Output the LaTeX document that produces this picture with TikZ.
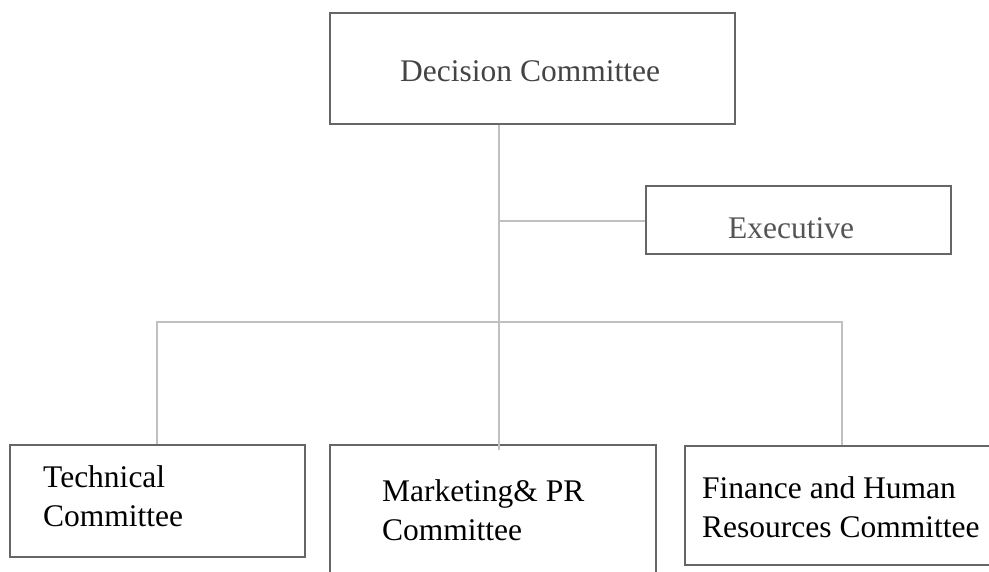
\documentclass[tikz,border=0pt]{standalone}
\usepackage{fontspec}
\setmainfont{Liberation Serif}
\definecolor{boxline}{HTML}{666666}
\definecolor{conn}{HTML}{C0C0C0}
\definecolor{toptext}{HTML}{444444}
\definecolor{exectext}{HTML}{555555}
\begin{document}
\begin{tikzpicture}[x=1pt,y=-1pt,
  orgbox/.style={draw=boxline,line width=1.5pt,rectangle,inner sep=0pt,anchor=north west},
  conline/.style={draw=conn,line width=1.5pt},
  lbl/.style={inner sep=0pt,anchor=base west,align=left,font=\fontsize{31.5}{39}\selectfont}]
\useasboundingbox (0,0) rectangle (989,571);
\clip (0,0) rectangle (989,571);
% connectors
\coordinate (busL) at (157,322);
\coordinate (busR) at (842,322);
\coordinate (busM) at (499,322);
\coordinate (execJ) at (499,221);
% boxes
\node[orgbox,minimum width=405pt,minimum height=111pt] (dec) at (329,12) {};
\node[orgbox,minimum width=305pt,minimum height=68pt] (exec) at (645,185) {};
\node[orgbox,minimum width=295pt,minimum height=112pt] (tech) at (9,444) {};
\node[orgbox,minimum width=326pt,minimum height=140pt] (mkt) at (329,444) {};
\node[orgbox,minimum width=320pt,minimum height=119pt] (fin) at (684,445) {};
\draw[conline] (dec.south -| execJ) -- (busM) -- ([yshift=-6pt]mkt.north -| busM);
\draw[conline] (execJ) -- (exec.west |- execJ);
\draw[conline] (tech.north -| busL) -- (busL) -- (busR) -- (fin.north -| busR);
% labels
\node[lbl,text=toptext] (decl) at (400,81) {Decision Committee};
\node[lbl,text=exectext] (execl) at (728,238) {Executive};
\node[lbl] (techl) at (43,526) {Technical\\Committee};
\node[lbl] (mktl) at (382,540) {Marketing\& PR\\Committee};
\node[lbl] (finl) at (702,537) {Finance and Human\\Resources Committee};
\end{tikzpicture}
\end{document}
